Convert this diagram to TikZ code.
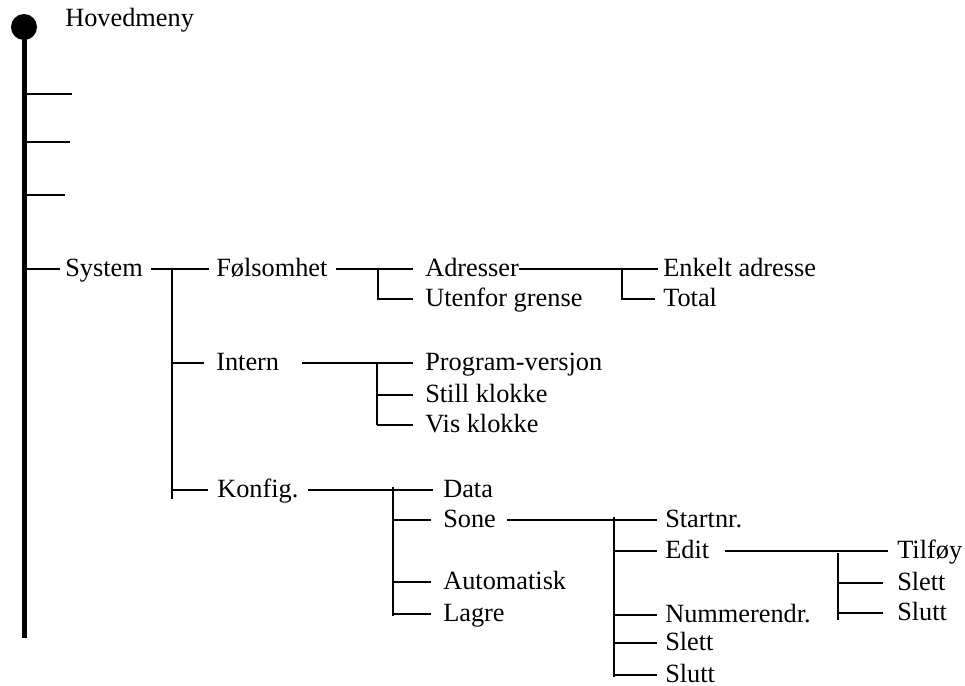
\documentclass[tikz,border=0pt]{standalone}
\usepackage{fontspec}
\setmainfont{Liberation Serif}
\usepackage{tikz}
\usetikzlibrary{calc}
\tikzset{
  menuitem/.style={
    anchor=west, inner sep=0pt,
    text height=11.5pt, text depth=1pt,
    font=\fontsize{19.75}{23}\selectfont
  },
  menuline/.style={line width=1pt, black},
  spine/.style={line width=3.75pt, black}
}

\begin{document}
\begin{tikzpicture}[x=0.75pt, y=-0.75pt]
    \useasboundingbox (0,0) rectangle (965,686);
    % main spine
    \node[circle, fill=black, inner sep=0pt, minimum size=19.5pt] (root) at (24,27) {};
    \coordinate (rootend) at (24,638);
    \draw[spine] (root.center) -- (rootend);
    \coordinate (t1) at (72,94);
    \coordinate (t2) at (70,142);
    \coordinate (t3) at (65,195);
    \foreach \t in {t1,t2,t3}
      \draw[menuline] (root |- \t) -- (\t);

    \node[menuitem] (hoved) at (65,19) {Hovedmeny};
    \node[menuitem] (sys) at (65,269) {System};
    \node[menuitem] (fol) at (216,269) {Følsomhet};
    \node[menuitem] (intern) at (216,363) {Intern};
    \node[menuitem] (konfig) at (217,490) {Konfig.};
    \node[menuitem] (adr) at (425,269) {Adresser};
    \node[menuitem] (uten) at (425,299) {Utenfor grense};
    \node[menuitem] (enk) at (663,269) {Enkelt adresse};
    \node[menuitem] (tot) at (663,299) {Total};
    \node[menuitem] (prog) at (425,363) {Program-versjon};
    \node[menuitem] (still) at (425,395) {Still klokke};
    \node[menuitem] (vis) at (425,425) {Vis klokke};
    \node[menuitem] (data) at (443,490) {Data};
    \node[menuitem] (sone) at (443,520) {Sone};
    \node[menuitem] (auto) at (443,582) {Automatisk};
    \node[menuitem] (lagre) at (443,614) {Lagre};
    \node[menuitem] (start) at (665,520) {Startnr.};
    \node[menuitem] (edit) at (665,551) {Edit};
    \node[menuitem] (numm) at (665,615) {Nummerendr.};
    \node[menuitem] (slett) at (665,643) {Slett};
    \node[menuitem] (slutt) at (665,675) {Slutt};
    \node[menuitem] (tilf) at (897,551) {Tilføy};
    \node[menuitem] (slett2) at (897,583) {Slett};
    \node[menuitem] (slutt2) at (897,613) {Slutt};

    % junctions
    \coordinate (sysJ) at (172,269);
    \coordinate (folJ) at (378,269);
    \coordinate (adrJ) at (622,269);
    \coordinate (intJ) at (377,363);
    \coordinate (konJ) at (393,490);
    \coordinate (soneJ) at (614,520);
    \coordinate (editJ) at (838,551);

    \draw[menuline] (root |- sys.west) -- ($(sys.west)+(-5,0)$);
    \draw[menuline] ($(sys.east)+(8,0)$) -- ($(fol.west)+(-7,0)$);
    \draw[menuline] (sysJ) -- ($(sysJ |- konfig.west)+(0,9)$);
    \draw[menuline] (sysJ |- intern.west) -- ($(intern.west)+(-12,0)$);
    \draw[menuline] (sysJ |- konfig.west) -- ($(konfig.west)+(-9,0)$);

    \draw[menuline] ($(fol.east)+(8,0)$) -- ($(adr.west)+(-12,0)$);
    \draw[menuline] (folJ) |- ($(uten.west)+(-12,0)$);

    \draw[menuline] (adr.east) -- ($(enk.west)+(-5,0)$);
    \draw[menuline] (adrJ) |- ($(tot.west)+(-8,0)$);

    \draw[menuline] ($(intern.east)+(23,0)$) -- ($(prog.west)+(-12,0)$);
    \draw[menuline] (intJ) -- (intJ |- vis.west);
    \draw[menuline] (intJ |- still.west) -- ($(still.west)+(-12,0)$);
    \draw[menuline] (intJ |- vis.west) -- ($(vis.west)+(-12,0)$);

    \draw[menuline] ($(konfig.east)+(9,0)$) -- ($(data.west)+(-10,0)$);
    \draw[menuline] ($(konJ)+(0,-3)$) -- ($(konJ |- lagre.west)+(0,2)$);
    \foreach \c in {sone,auto,lagre}
      \draw[menuline] (konJ |- \c.west) -- ($(\c.west)+(-12,0)$);

    \draw[menuline] ($(sone.east)+(11,0)$) -- ($(start.west)+(-8,0)$);
    \draw[menuline] ($(soneJ)+(0,-3)$) -- ($(soneJ |- slutt.west)+(0,2)$);
    \foreach \c in {edit,numm,slett,slutt}
      \draw[menuline] (soneJ |- \c.west) -- ($(\c.west)+(-8,0)$);

    \draw[menuline] ($(edit.east)+(16,0)$) -- ($(tilf.west)+(-9,0)$);
    \draw[menuline] ($(editJ)+(0,2)$) -- ($(editJ |- slutt2.west)+(0,7)$);
    \foreach \c in {slett2,slutt2}
      \draw[menuline] (editJ |- \c.west) -- ($(\c.west)+(-14,0)$);
\end{tikzpicture}
\end{document}
